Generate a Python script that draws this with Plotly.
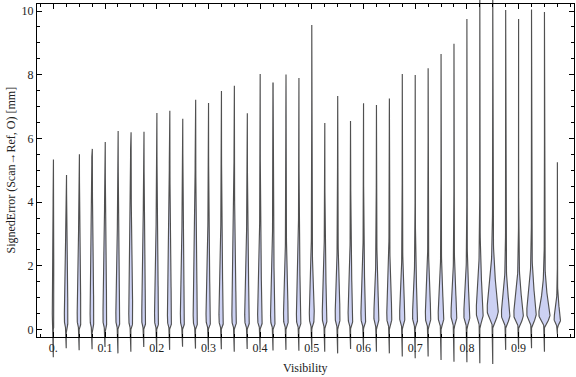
import numpy as np
import plotly.graph_objects as go

# ---------------- data ----------------
visibility = [0.0, 0.025, 0.05, 0.075, 0.1, 0.125, 0.15, 0.175, 0.2, 0.225,
              0.25, 0.275, 0.3, 0.325, 0.35, 0.375, 0.4, 0.425, 0.45, 0.475,
              0.5, 0.525, 0.55, 0.575, 0.6, 0.625, 0.65, 0.675, 0.7, 0.725,
              0.75, 0.775, 0.8, 0.825, 0.85, 0.875, 0.9, 0.925, 0.95, 0.975]

error_max = [5.34, 4.85, 5.50, 5.67, 5.89, 6.23, 6.19, 6.21, 6.80, 6.87,
             6.62, 7.21, 7.11, 7.49, 7.65, 6.79, 8.02, 7.74, 8.01, 7.90,
             9.56, 6.48, 7.33, 6.55, 7.10, 7.05, 7.25, 8.02, 7.99, 8.20,
             8.65, 8.97, 9.75, 10.6, 10.8, 10.03, 9.75, 10.05, 9.97, 5.25]

error_min = [-0.87, -0.59, -0.65, -0.62, -0.55, -0.75, -0.70, -0.55, -0.70, -0.64,
             -0.54, -0.60, -0.64, -0.62, -0.70, -0.61, -0.64, -0.66, -0.64, -0.67,
             -0.64, -0.70, -0.75, -0.61, -0.64, -0.70, -0.75, -0.85, -0.90, -0.85,
             -0.96, -1.01, -1.03, -1.06, -1.08, -0.64, -0.62, -0.59, -0.70, -0.15]

# location of the density peak (mm)
error_mode = [0.40, 0.40, 0.40, 0.40, 0.40, 0.40, 0.40, 0.40, 0.40, 0.40,
              0.40, 0.40, 0.40, 0.40, 0.40, 0.40, 0.40, 0.40, 0.40, 0.40,
              0.45, 0.45, 0.45, 0.45, 0.45, 0.45, 0.45, 0.45, 0.45, 0.45,
              0.45, 0.50, 0.50, 0.60, 0.65, 0.50, 0.50, 0.55, 0.50, 0.35]

# relative peak density (violin half width)
peak_density = [1.0, 1.9, 2.0, 2.0, 2.1, 2.1, 2.1, 2.1, 2.2, 2.2,
                2.2, 2.3, 2.4, 2.4, 2.4, 2.5, 2.5, 2.5, 2.5, 2.5,
                2.5, 2.5, 2.5, 2.5, 2.6, 2.6, 2.6, 2.7, 2.7, 2.8,
                2.9, 3.0, 3.1, 3.6, 5.6, 4.3, 4.8, 4.8, 5.6, 3.3]

# log-spread of each distribution
log_spread = [1.3, 1.3, 1.3, 1.3, 1.3, 1.3, 1.3, 1.3, 1.3, 1.3,
              1.3, 1.3, 1.2, 1.2, 1.2, 1.2, 1.15, 1.15, 1.1, 1.1,
              1.0, 1.0, 1.0, 1.0, 0.95, 0.95, 0.95, 0.9, 0.9, 0.9,
              0.85, 0.8, 0.8, 0.75, 0.7, 0.7, 0.7, 0.7, 0.65, 0.6]

x_tick_vals = [0.0, 0.1, 0.2, 0.3, 0.4, 0.5, 0.6, 0.7, 0.8, 0.9]
x_tick_text = ["0.", "0.1", "0.2", "0.3", "0.4", "0.5", "0.6", "0.7", "0.8", "0.9"]
y_tick_vals = [0, 2, 4, 6, 8, 10]

# ---------------- geometry / style ----------------
W, H = 576, 377
PX_X = 517.0       # pixels per visibility unit
PX_Y = 31.85       # pixels per mm
X0_PX = 53.3       # pixel column of visibility 0
Y0_PX = 329.5      # pixel row of error 0
FRAME = dict(left=37, right=574, top=4, bottom=337)

def px_to_x(px):
    return (px - X0_PX) / PX_X

def px_to_y(py):
    return (Y0_PX - py) / PX_Y

FILL = "rgb(204,209,243)"
EDGE = "rgb(80,80,80)"
FONT = "Liberation Serif, Times New Roman, serif"

fig = go.Figure()

for pos, vmax, vmin, mode, dens, s in zip(visibility, error_max, error_min,
                                           error_mode, peak_density, log_spread):
    v = np.unique(np.concatenate([np.linspace(vmin, 0.0, 6),
                                  np.geomspace(0.005, vmax, 160)]))
    vpos = np.clip(v, 1e-9, None)
    h = np.where(v > 0, dens * np.exp(-np.log(vpos / mode) ** 2 / (2 * s * s)), 0.0)
    hx = h / PX_X
    xs = np.concatenate([pos - hx, (pos + hx)[::-1]])
    ys = np.concatenate([v, v[::-1]])
    fig.add_trace(go.Scatter(
        x=xs, y=ys, mode="lines", fill="toself", fillcolor=FILL,
        line=dict(color=EDGE, width=1.15), hoverinfo="skip", showlegend=False,
        xaxis="x", yaxis="y"))

axis_font = dict(family=FONT, size=12, color="#222")

fig.update_layout(
    width=W, height=H,
    margin=dict(l=0, r=0, t=0, b=0, pad=0),
    paper_bgcolor="white", plot_bgcolor="rgba(0,0,0,0)",
    showlegend=False,
    xaxis=dict(domain=[0, 1], range=[px_to_x(0), px_to_x(W)], visible=False,
               fixedrange=True),
    yaxis=dict(domain=[0, 1], range=[px_to_y(H), px_to_y(0)], visible=False,
               fixedrange=True),
    xaxis2=dict(domain=[FRAME["left"] / W, FRAME["right"] / W],
                range=[px_to_x(FRAME["left"]), px_to_x(FRAME["right"])],
                anchor="y2", showline=True, linecolor="black", linewidth=1,
                mirror="ticks", ticks="inside", ticklen=5, tickwidth=1,
                tickcolor="black", tickvals=x_tick_vals, ticktext=x_tick_text,
                tickfont=axis_font, showgrid=False, zeroline=False,
                minor=dict(dtick=0.025, tick0=0, ticks="inside", ticklen=3,
                           tickcolor="black", showgrid=False),
                fixedrange=True),
    yaxis2=dict(domain=[(H - FRAME["bottom"]) / H, (H - FRAME["top"]) / H],
                range=[px_to_y(FRAME["bottom"]), px_to_y(FRAME["top"])],
                anchor="x2", showline=True, linecolor="black", linewidth=1,
                mirror="ticks", ticks="inside", ticklen=5, tickwidth=1,
                tickcolor="black", tickvals=y_tick_vals,
                tickfont=axis_font, showgrid=False, zeroline=False,
                minor=dict(dtick=0.5, tick0=0, ticks="inside", ticklen=3,
                           tickcolor="black", showgrid=False),
                fixedrange=True),
    annotations=[
        dict(text="Visibility", x=305.5 / W, y=(H - 368) / H, xref="paper",
             yref="paper", showarrow=False, xanchor="center", yanchor="middle",
             font=dict(family=FONT, size=12, color="#222")),
        dict(text="SignedError (Scan→Ref, O) [mm]", x=10 / W, y=(H - 170.5) / H,
             xref="paper", yref="paper", showarrow=False, textangle=-90,
             xanchor="center", yanchor="middle",
             font=dict(family=FONT, size=12, color="#222")),
    ],
)

# invisible anchor trace so the frame subplot is created
fig.add_trace(go.Scatter(x=[None], y=[None], xaxis="x2", yaxis="y2",
                         showlegend=False, hoverinfo="skip"))

fig.write_html("out.html",
               config={"displayModeBar": False, "staticPlot": True},
               post_script="document.body.style.margin='0px';"
                           "document.body.style.overflow='hidden';")
